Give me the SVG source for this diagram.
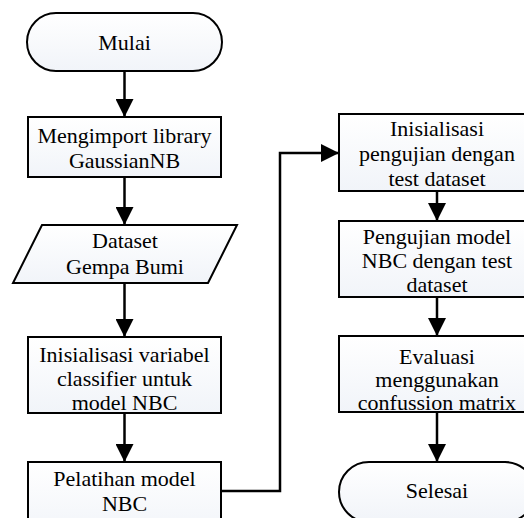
<svg xmlns="http://www.w3.org/2000/svg" width="524" height="518" viewBox="0 0 524 518" font-family="Liberation Serif, Times New Roman, serif" font-size="22">
<style>
.s{fill:url(#g);stroke:#000;stroke-width:2}
.t{font-family:Liberation Serif, Times New Roman, serif;font-size:22px;fill:#000;text-anchor:middle}
.c{fill:none;stroke:#000;stroke-width:2.5}
</style>
<defs>
<linearGradient id="g" x1="0" y1="0" x2="0" y2="1">
<stop offset="0" stop-color="#ffffff"/>
<stop offset="1" stop-color="#f1f4f9"/>
</linearGradient>
<marker id="a" markerUnits="userSpaceOnUse" markerWidth="18" markerHeight="18" refX="18" refY="9" orient="auto">
<path d="M0,0 L18,9 L0,18 z" fill="#000"/>
</marker>
</defs>
<rect width="524" height="518" fill="#fff"/>
<g id="connectors">
<line class="c" x1="124.5" y1="71" x2="124.5" y2="117" marker-end="url(#a)"/>
<line class="c" x1="124.5" y1="177" x2="124.5" y2="225" marker-end="url(#a)"/>
<line class="c" x1="124.5" y1="283" x2="124.5" y2="337" marker-end="url(#a)"/>
<line class="c" x1="124.5" y1="413" x2="124.5" y2="462" marker-end="url(#a)"/>
<polyline class="c" points="222,491 280,491 280,153 339,153" marker-end="url(#a)"/>
<line class="c" x1="437" y1="191" x2="437" y2="221" marker-end="url(#a)"/>
<line class="c" x1="437" y1="297" x2="437" y2="336" marker-end="url(#a)"/>
<line class="c" x1="437" y1="412" x2="437" y2="462" marker-end="url(#a)"/>
</g>
<g id="mulai">
<rect class="s" x="27" y="13" width="195" height="58" rx="29" ry="29"/>
<text class="t" x="124.5" y="50">Mulai</text>
</g>
<g id="import">
<rect class="s" x="28" y="117" width="193" height="60"/>
<text class="t" x="124.5" y="143">Mengimport library</text>
<text class="t" x="124.5" y="168">GaussianNB</text>
</g>
<g id="dataset">
<polygon class="s" points="42,225 237,225 208,283 13,283"/>
<text class="t" x="125" y="248">Dataset</text>
<text class="t" x="125" y="274">Gempa Bumi</text>
</g>
<g id="inisialisasi-variabel">
<rect class="s" x="28" y="337" width="193" height="76"/>
<text class="t" x="124.5" y="362">Inisialisasi variabel</text>
<text class="t" x="124.5" y="386">classifier untuk</text>
<text class="t" x="124.5" y="410">model NBC</text>
</g>
<g id="pelatihan">
<rect class="s" x="28" y="462" width="193" height="76"/>
<text class="t" x="124.5" y="486">Pelatihan model</text>
<text class="t" x="124.5" y="511">NBC</text>
</g>
<g id="inisialisasi-pengujian">
<rect class="s" x="339" y="114" width="196" height="77"/>
<text class="t" x="437" y="136">Inisialisasi</text>
<text class="t" x="437" y="161">pengujian dengan</text>
<text class="t" x="437" y="186">test dataset</text>
</g>
<g id="pengujian">
<rect class="s" x="339" y="221" width="196" height="76"/>
<text class="t" x="437" y="244">Pengujian model</text>
<text class="t" x="437" y="268">NBC dengan test</text>
<text class="t" x="437" y="292">dataset</text>
</g>
<g id="evaluasi">
<rect class="s" x="339" y="336" width="196" height="76"/>
<text class="t" x="437" y="364">Evaluasi</text>
<text class="t" x="437" y="387">menggunakan</text>
<text class="t" x="437" y="410">confussion matrix</text>
</g>
<g id="selesai">
<rect class="s" x="339" y="462" width="196" height="60" rx="30" ry="30"/>
<text class="t" x="437" y="498">Selesai</text>
</g>
</svg>
